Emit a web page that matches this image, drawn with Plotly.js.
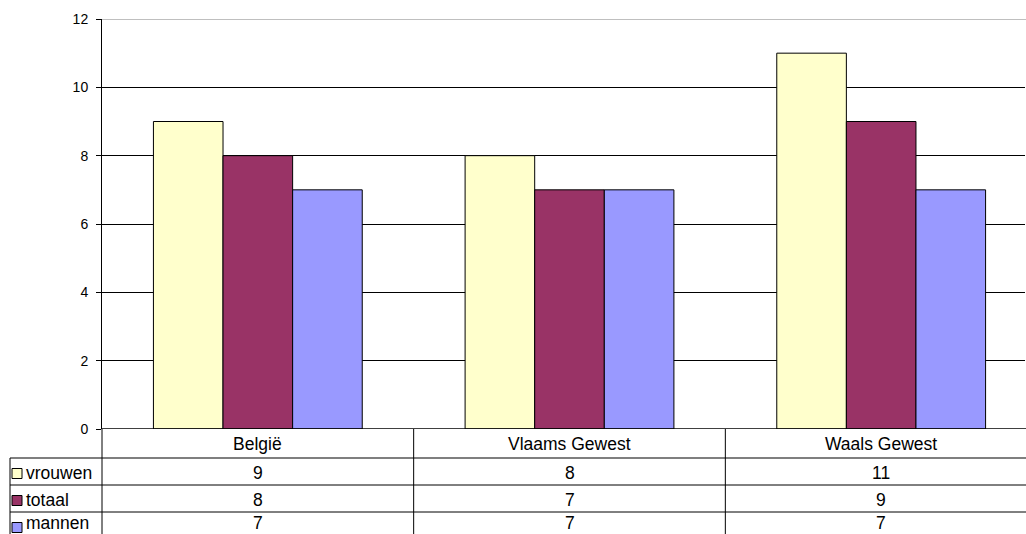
<!DOCTYPE html>
<html>
<head>
<meta charset="utf-8">
<script src="https://cdn.plot.ly/plotly-3.0.1.min.js"></script>
<style>html,body{margin:0;padding:0;overflow:hidden;background:#fff}#chart{width:1026px;height:534px}</style>
</head>
<body>
<div id="chart"></div>
<script>
var categories = ["België", "Vlaams Gewest", "Waals Gewest"];
var seriesNames = ["vrouwen", "totaal", "mannen"];
var vrouwen = [9, 8, 11];
var totaal = [8, 7, 9];
var mannen = [7, 7, 7];
var yTicks = [0, 2, 4, 6, 8, 10, 12];

var seriesValues = [vrouwen, totaal, mannen];
var colors = ["#FFFFCC", "#993366", "#9999FF"];

var idx = categories.map(function(_, i){ return i; });
var traces = seriesNames.map(function(name, s){
  return {
    type: "bar", name: name, x: idx, y: seriesValues[s],
    marker: {color: colors[s], line: {color: "#000", width: 1}},
    hoverinfo: "skip"
  };
});

var plotTop = 19, plotBottom = 429, plotH = plotBottom - plotTop;
function py(p){ return (plotBottom - p) / plotH; }
var plotLeft = 102, plotW = 1026 - 102 - 1;
function px(p){ return (p - plotLeft) / plotW; }

var rowLines = [458, 485, 512, 539];
var shapes = [];
var annotations = [];
var lineStyle = {color: "#000", width: 1};
var tableFont = {size: 17.5, color: "#000", family: "Liberation Sans, Arial, sans-serif"};

shapes.push({type: "line", xref: "paper", yref: "y", x0: 0, x1: 1.02, y0: yTicks[yTicks.length - 1], y1: yTicks[yTicks.length - 1], line: {color: "#808080", width: 1}});
shapes.push({type: "line", xref: "paper", yref: "y", x0: 0, x1: 1.02, y0: 0, y1: 0, line: {color: "#000", width: 1.5}});

rowLines.forEach(function(r, k){
  shapes.push({type: "line", xref: "paper", yref: "paper", x0: px(10), x1: 1.02, y0: py(r), y1: py(r),
    line: {color: k === 0 ? "#555" : "#000", width: k === 0 ? 1.5 : 1}});
});
shapes.push({type: "line", xref: "paper", yref: "paper", x0: px(10), x1: px(10), y0: py(458), y1: py(545), line: lineStyle});
shapes.push({type: "line", xref: "paper", yref: "paper", x0: 0, x1: 0, y0: 0, y1: py(545), line: lineStyle});
for (var c = 0; c < categories.length - 1; c++) {
  shapes.push({type: "line", xref: "x", yref: "paper", x0: c + 0.5, x1: c + 0.5, y0: 0, y1: py(545), line: lineStyle});
}

categories.forEach(function(cat, i){
  annotations.push({xref: "x", yref: "paper", x: i, y: py(444), text: cat, showarrow: false,
    xanchor: "center", yanchor: "middle", font: tableFont});
});

seriesNames.forEach(function(name, s){
  var top = rowLines[s], bot = rowLines[s + 1], mid = (top + bot) / 2;
  var last = (s === seriesNames.length - 1);
  var ty = last ? py(534) : py(mid + 1);
  var ya = last ? "bottom" : "middle";
  seriesValues[s].forEach(function(v, i){
    annotations.push({xref: "x", yref: "paper", x: i, y: ty, text: String(v), showarrow: false, borderpad: 0,
      xanchor: "center", yanchor: ya, font: tableFont});
  });
  shapes.push({type: "rect", xref: "paper", yref: "paper", x0: px(12), x1: px(22), y0: py(mid + 7), y1: py(mid - 3),
    fillcolor: colors[s], line: lineStyle});
  annotations.push({xref: "paper", yref: "paper", x: px(25), y: ty, text: name, showarrow: false, borderpad: 0,
    xanchor: "left", yanchor: ya, font: tableFont});
});

var layout = {
  width: 1026, height: 534,
  margin: {l: 102, r: 1, t: 19, b: 105, pad: 0},
  paper_bgcolor: "#fff", plot_bgcolor: "#fff",
  font: {family: "Liberation Sans, Arial, sans-serif", color: "#000", size: 13},
  barmode: "group", bargap: 0.33, bargroupgap: 0,
  showlegend: false,
  xaxis: {range: [-0.5, -0.5 + 923 / 311.67], showticklabels: false, showgrid: false, zeroline: false,
    showline: false, ticks: "", fixedrange: true},
  yaxis: {range: [0, 12], tickvals: yTicks, ticktext: yTicks.map(String), showgrid: true, gridcolor: "#000", gridwidth: 1,
    zeroline: false, showline: true, linecolor: "#000", linewidth: 1, ticks: "outside", ticklen: 5, tickcolor: "#000",
    tickfont: {size: 14, color: "#000"}, ticklabelstandoff: 5, fixedrange: true},
  shapes: shapes, annotations: annotations
};

Plotly.newPlot("chart", traces, layout, {displayModeBar: false, staticPlot: true});
</script>
</body>
</html>
